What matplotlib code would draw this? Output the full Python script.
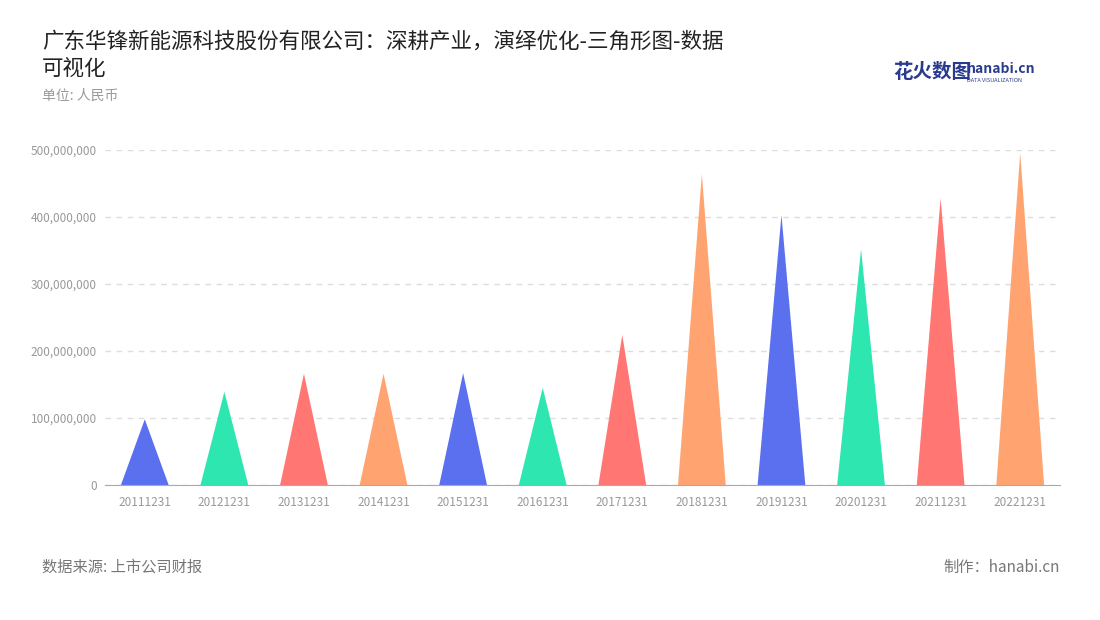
import matplotlib
matplotlib.use("Agg")
import matplotlib.pyplot as plt
from matplotlib.ticker import FuncFormatter

plt.rcParams['font.family'] = ['Noto Sans CJK SC', 'DejaVu Sans']

categories = ["20111231","20121231","20131231","20141231","20151231","20161231",
              "20171231","20181231","20191231","20201231","20211231","20221231"]
values = [98e6, 139e6, 166e6, 166e6, 167e6, 145e6, 224e6, 464e6, 403e6, 352e6, 428e6, 496e6]
palette = ["#5B70EE", "#2DE6B0", "#FF7672", "#FFA470"]

fig = plt.figure(figsize=(11, 6.2), dpi=100)
ax = fig.add_axes([105/1100, 1-485/620, 955/1100, 335/620])

half = 0.3
for i, v in enumerate(values):
    ax.fill([i-half, i, i+half], [0, v, 0], color=palette[i % 4], lw=0)

ax.set_xlim(-0.5, len(values)-0.5)
ax.set_ylim(0, 500e6)
ax.set_yticks([0, 100e6, 200e6, 300e6, 400e6, 500e6])
ax.yaxis.set_major_formatter(FuncFormatter(lambda v, p: f"{int(v):,}"))
ax.set_xticks(range(len(categories)))
ax.set_xticklabels(categories)
ax.tick_params(axis='both', colors='#999999', labelsize=8.5, length=0)
ax.tick_params(axis='x', pad=8)
ax.tick_params(axis='y', pad=6)
ax.grid(axis='y', color='#dddddd', linestyle=(0, (4, 4)), lw=1)
ax.set_axisbelow(True)
for s in ['top', 'right', 'left']:
    ax.spines[s].set_visible(False)
ax.spines['bottom'].set_color('#aaaaaa')

fig.text(42/1100, 1-55/620, "广东华锋新能源科技股份有限公司：深耕产业，演绎优化-三角形图-数据\n可视化",
         fontsize=15.5, color='#222222', va='center', linespacing=1.3)
fig.text(42/1100, 1-96/620, "单位: 人民币", fontsize=10, color='#999999', va='center')
fig.text(893/1100, 1-72/620, "花火数图", fontsize=14, color='#2a3b8f', va='center', fontweight='bold')
fig.text(967/1100, 1-69/620, "hanabi.cn", fontsize=10, color='#2a3b8f', va='center', fontweight='bold')
fig.text(967/1100, 1-80/620, "DATA VISUALIZATION", fontsize=4, color='#2a3b8f', va='center')
fig.text(42/1100, 1-567/620, "数据来源: 上市公司财报", fontsize=11, color='#777777', va='center')
fig.text(1060/1100, 1-567/620, "制作：hanabi.cn", fontsize=11, color='#777777', va='center', ha='right')

fig.savefig("out.png", dpi=100, facecolor='white')
